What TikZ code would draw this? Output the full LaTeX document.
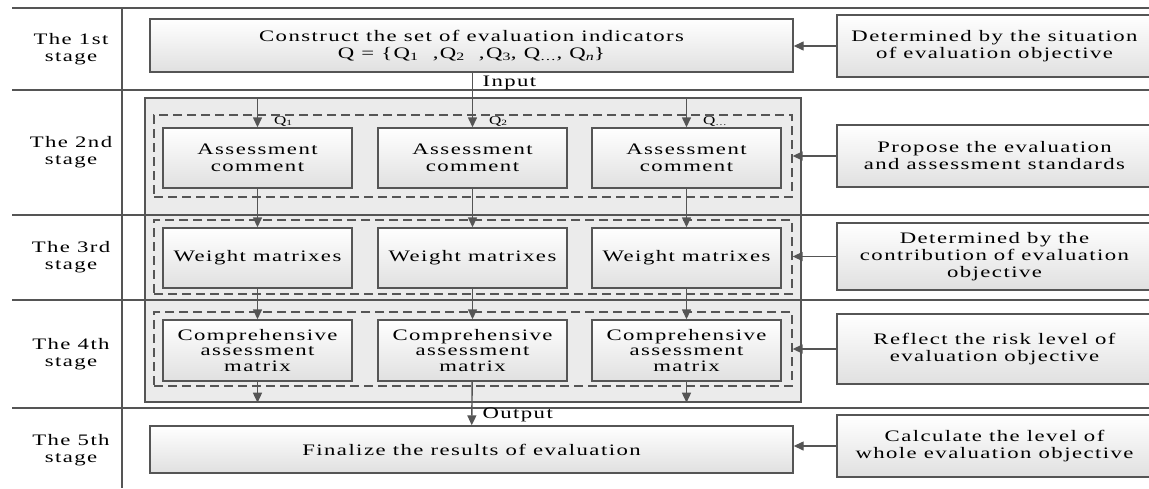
\documentclass[tikz,border=0pt]{standalone}
\usepackage{fontspec}
\setmainfont{Liberation Serif}[FakeStretch=1.42,LetterSpace=9]
\usetikzlibrary{arrows.meta}
\definecolor{linegray}{HTML}{555555}
\definecolor{boxgray}{HTML}{E0E0E0}
\definecolor{panelgray}{HTML}{EBEBEB}
\begin{document}
\begin{tikzpicture}[x=1pt, y=-1pt,
	rule/.style={draw=linegray, line width=1.5pt},
	stagebox/.style={draw=linegray, line width=1.4pt, top color=white, bottom color=boxgray, inner sep=0pt, align=center},
	colbox/.style={stagebox, minimum width=189pt},
	sidebox/.style={stagebox, minimum width=315pt},
	dashbox/.style={draw=linegray, line width=1.3pt, dash pattern=on 9pt off 5pt, minimum width=638pt, inner sep=0pt},
	flow/.style={draw=linegray, line width=1.4pt, -{Triangle[length=10pt,width=9pt]}},
	font=\fontsize{16}{17}\selectfont]
		\clip (0,0) rectangle (1149,488);
		
		%grey panel for stages 2-4
		\node[draw=linegray, line width=1.4pt, fill=panelgray, minimum width=656pt, minimum height=304pt] (panel) at (473,250) {};
		
		%stage rows
		\foreach \y in {8, 90, 215, 300, 408}{
			\draw[rule] (12,\y)--(1149,\y);
		}
		\draw[rule] (122,8)--(122,488);
		\foreach \y/\s in {49/1st, 152/2nd, 257/3rd, 354/4th, 450/5th}{
			\node[align=center] (lbl\s) at (71,\y){The \s\\stage};
		}
		
		\node[stagebox, minimum width=643pt, minimum height=53pt] (obj) at (471.5,45.5){Construct the set of evaluation indicators\\Q = \{Q\textsubscript{1}\ \ ,Q\textsubscript{2}\ \ ,Q\textsubscript{3}, Q\textsubscript{\dots}, Q\textsubscript{\itshape n}\}};
		\node[stagebox, minimum width=643pt, minimum height=47pt] (fin) at (471.5,449.5){Finalize the results of evaluation};
		
		\node[dashbox, minimum height=82pt] (dash2) at (473,156){};
		\node[dashbox, minimum height=74pt] (dash3) at (473,257){};
		\node[dashbox, minimum height=74pt] (dash4) at (473,349){};
		
		%three columns
		\foreach \i/\x/\q in {1/257.5/1, 2/472.5/2, 3/686.5/\dots}{
			\node[colbox, minimum height=60pt] (ac\i) at (\x,158){Assessment\\comment};
			\node[colbox, minimum height=60pt] (wm\i) at (\x,258){Weight matrixes};
			\node[colbox, minimum height=61pt, font=\fontsize{16}{15.5}\selectfont] (cm\i) at (\x,350.5){Comprehensive\\assessment\\matrix};
			\node[anchor=west, font=\fontsize{12}{12}\selectfont] (q\i) at (\x+13,121){Q\textsubscript{\q}};
			\draw[flow] (ac\i)--(wm\i);
			\draw[flow] (wm\i)--(cm\i);
		}
		\draw[flow] (ac1 |- panel.north)--(ac1);
		\draw[flow] (ac3 |- panel.north)--(ac3);
		\draw[flow] (ac2 |- obj.south)--(ac2);
		\node[anchor=west] (inp) at (479,83){Input};
		\draw[flow] (cm1)--(cm1 |- panel.south);
		\draw[flow] (cm3)--(cm3 |- panel.south);
		\draw[flow] (cm2)--(fin);
		\node[anchor=west] (outp) at (479,415){Output};
		
		%explanations on the right
		\node[sidebox, minimum height=62pt] (r1) at (994.5,46){Determined by the situation\\of evaluation objective};
		\node[sidebox, minimum height=62pt] (r2) at (994.5,156){Propose the evaluation\\and assessment standards};
		\node[sidebox, minimum height=67pt] (r3) at (994.5,256.5){Determined by the\\contribution of evaluation\\objective};
		\node[sidebox, minimum height=70pt] (r4) at (994.5,349){Reflect the risk level of\\evaluation objective};
		\node[sidebox, minimum height=62pt] (r5) at (994.5,446){Calculate the level of\\whole evaluation objective};
		\draw[flow] (r1)--(r1 -| obj.east);
		\draw[flow] (r2)--(r2 -| dash2.east);
		\draw[flow] (r3)--(r3 -| dash3.east);
		\draw[flow] (r4)--(r4 -| dash4.east);
		\draw[flow] (r5)--(r5 -| fin.east);
		\end{tikzpicture}
\end{document}
